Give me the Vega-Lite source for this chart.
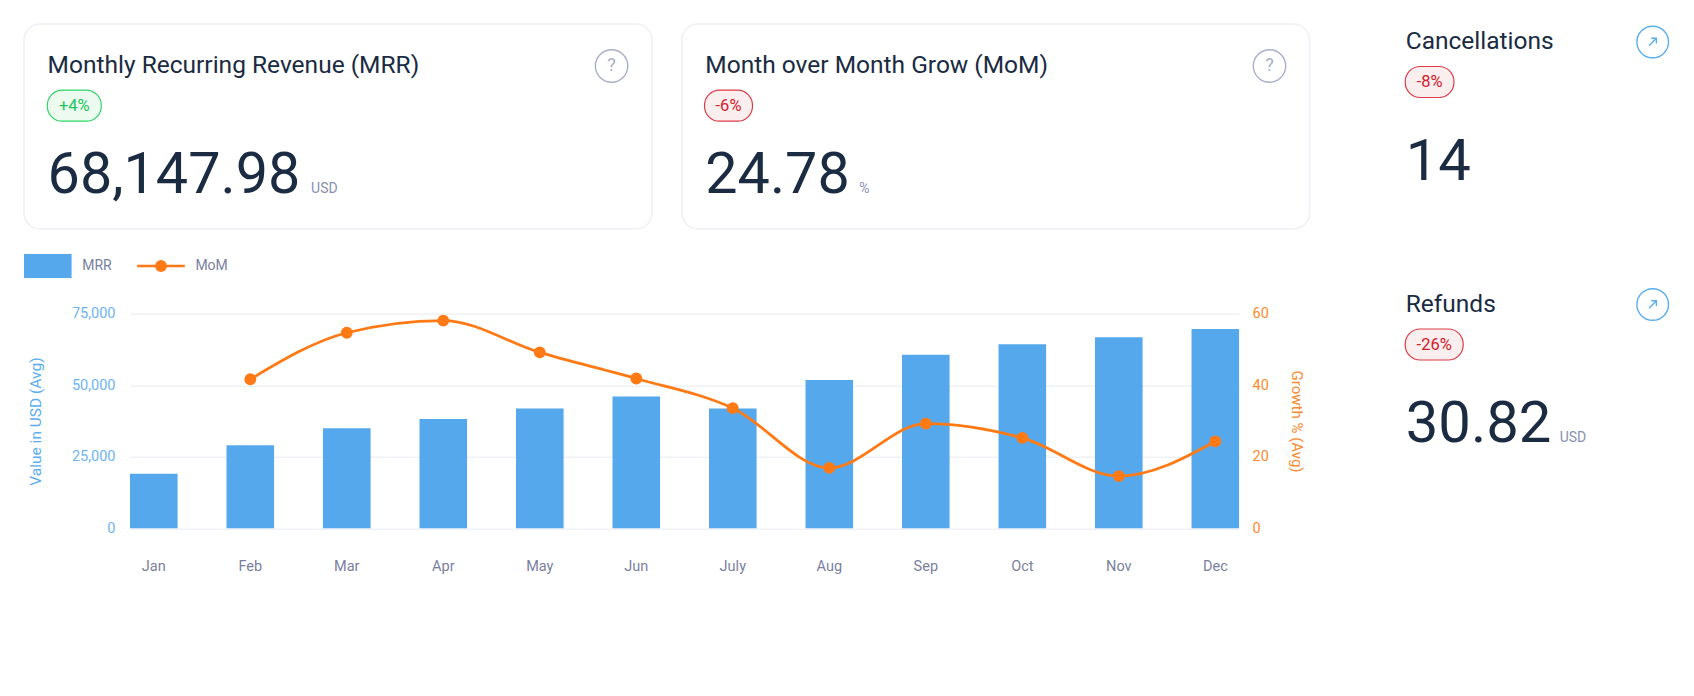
{"$schema":"https://vega.github.io/schema/vega-lite/v6.json","padding":{"left":23,"top":23,"right":0,"bottom":100},"background":"white","spacing":92.7,"config":{"font":"Roboto","view":{"stroke":null},"text":{"font":"Roboto"}},
"hconcat":[
{"spacing":15.4,"vconcat":[
 {"bounds":"flush","spacing":30,"hconcat":[
  {"width":628,"height":205,"view":{"stroke":"#eef0f5","strokeWidth":1.5,"cornerRadius":16},
   "data":{"values":[{"kind":"title","col":"text","part":"title","label":"Monthly Recurring Revenue (MRR)"},{"kind":"badge","col":"text","part":"badge","label":"+4%"},{"kind":"value","col":"text","part":"value","label":"68,147.98"},{"kind":"unit","col":"text","part":"value","label":"USD"},{"kind":"help","col":"help","part":"title","label":"?"}]},
   "encoding":{"x":{"field":"col","type":"nominal","axis":null,"scale":{"type":"point","padding":0,"domain":["text","help"],"range":[23.6,587.6]}},"y":{"field":"part","type":"nominal","axis":null,"scale":{"type":"point","padding":0,"domain":["title","badge","value"],"range":[42,121.4]}}},
   "layer":[
    {"transform":[{"filter":"datum.kind==='title'"}],"mark":{"type":"text","align":"left","baseline":"middle","fontSize":24.5,"color":"#1a2b42"},"encoding":{"text":{"field":"label"}}},
    {"transform":[{"filter":"datum.kind==='badge'"}],"mark":{"type":"rect","width":54,"height":31,"xOffset":26.7,"cornerRadius":15,"fill":"#ecfaf0","stroke":"#2fd566","strokeWidth":1.2}},
    {"transform":[{"filter":"datum.kind==='badge'"}],"mark":{"type":"text","align":"center","baseline":"middle","dx":26.7,"fontSize":16.5,"color":"#22c55e"},"encoding":{"text":{"field":"label"}}},
    {"transform":[{"filter":"datum.kind==='value'"}],"mark":{"type":"text","align":"left","baseline":"alphabetic","dy":47.9,"fontSize":57.5,"color":"#1a2b42"},"encoding":{"text":{"field":"label"}}},
    {"transform":[{"filter":"datum.kind==='unit'"}],"mark":{"type":"text","align":"left","baseline":"alphabetic","dy":47.9,"dx":263.5,"fontSize":14,"color":"#8a90b0"},"encoding":{"text":{"field":"label"}}},
    {"transform":[{"filter":"datum.kind==='help'"}],"mark":{"type":"point","shape":"circle","size":1048,"filled":false,"stroke":"#a9afc9","strokeWidth":1.4,"opacity":1}},
    {"transform":[{"filter":"datum.kind==='help'"}],"mark":{"type":"text","align":"center","baseline":"middle","fontSize":18,"color":"#a9afc9"},"encoding":{"text":{"field":"label"}}}
   ]},
  {"width":627.5,"height":205,"view":{"stroke":"#eef0f5","strokeWidth":1.5,"cornerRadius":16},
   "data":{"values":[{"kind":"title","col":"text","part":"title","label":"Month over Month Grow (MoM)"},{"kind":"badge","col":"text","part":"badge","label":"-6%"},{"kind":"value","col":"text","part":"value","label":"24.78"},{"kind":"unit","col":"text","part":"value","label":"%"},{"kind":"help","col":"help","part":"title","label":"?"}]},
   "encoding":{"x":{"field":"col","type":"nominal","axis":null,"scale":{"type":"point","padding":0,"domain":["text","help"],"range":[23.3,587.5]}},"y":{"field":"part","type":"nominal","axis":null,"scale":{"type":"point","padding":0,"domain":["title","badge","value"],"range":[42,121.4]}}},
   "layer":[
    {"transform":[{"filter":"datum.kind==='title'"}],"mark":{"type":"text","align":"left","baseline":"middle","fontSize":24.5,"color":"#1a2b42"},"encoding":{"text":{"field":"label"}}},
    {"transform":[{"filter":"datum.kind==='badge'"}],"mark":{"type":"rect","width":48,"height":31,"xOffset":23.2,"cornerRadius":15,"fill":"#fbeeee","stroke":"#dc3b47","strokeWidth":1.2}},
    {"transform":[{"filter":"datum.kind==='badge'"}],"mark":{"type":"text","align":"center","baseline":"middle","dx":23.2,"fontSize":16.5,"color":"#d0202c"},"encoding":{"text":{"field":"label"}}},
    {"transform":[{"filter":"datum.kind==='value'"}],"mark":{"type":"text","align":"left","baseline":"alphabetic","dy":47.9,"fontSize":57.5,"color":"#1a2b42"},"encoding":{"text":{"field":"label"}}},
    {"transform":[{"filter":"datum.kind==='unit'"}],"mark":{"type":"text","align":"left","baseline":"alphabetic","dy":47.9,"dx":154,"fontSize":14,"color":"#8a90b0"},"encoding":{"text":{"field":"label"}}},
    {"transform":[{"filter":"datum.kind==='help'"}],"mark":{"type":"point","shape":"circle","size":1048,"filled":false,"stroke":"#a9afc9","strokeWidth":1.4,"opacity":1}},
    {"transform":[{"filter":"datum.kind==='help'"}],"mark":{"type":"text","align":"center","baseline":"middle","fontSize":18,"color":"#a9afc9"},"encoding":{"text":{"field":"label"}}}
   ]}
 ]},
 {"width":1285.5,"height":44.6,"data":{"values":[{"series":"MRR","row":"legend"},{"series":"MoM","row":"legend"}]},
  "encoding":{"x":{"field":"series","type":"nominal","axis":null,"scale":{"type":"point","padding":0,"domain":["MRR","MoM"],"range":[23.8,137]}},"y":{"field":"row","type":"nominal","axis":null,"scale":{"type":"point","domain":["legend"],"range":[0,41.2]}}},
  "layer":[
   {"transform":[{"filter":"datum.series==='MRR'"}],"mark":{"type":"rect","width":47.6,"height":24,"fill":"#55a8ec"}},
   {"transform":[{"filter":"datum.series==='MoM'"}],"mark":{"type":"rect","width":47.6,"height":2.6,"fill":"#ff7a14"}},
   {"transform":[{"filter":"datum.series==='MoM'"}],"mark":{"type":"point","shape":"circle","size":140,"filled":true,"fill":"#ff7a14","opacity":1}},
   {"mark":{"type":"text","align":"left","baseline":"middle","dx":34.4,"fontSize":14,"color":"#7a7f9e"},"encoding":{"text":{"field":"series"}}}
  ]},
 {"bounds":"flush","spacing":0,"hconcat":[
  {"width":105.6,"height":1,"data":{"values":[{"label":""}]},"mark":{"type":"text"},"encoding":{"text":{"field":"label"}}},
  {"width":1109.1,"height":214.5,
   "data":{"values":[
    {"month":"Jan","mrr":19100,"mom":null},{"month":"Feb","mrr":29050,"mom":41.7},{"month":"Mar","mrr":34950,"mom":54.7},{"month":"Apr","mrr":38200,"mom":58.1},{"month":"May","mrr":41900,"mom":49.2},{"month":"Jun","mrr":46050,"mom":41.9},{"month":"July","mrr":41900,"mom":33.6},{"month":"Aug","mrr":51850,"mom":16.9},{"month":"Sep","mrr":60650,"mom":29.3},{"month":"Oct","mrr":64350,"mom":25.3},{"month":"Nov","mrr":66800,"mom":14.6},{"month":"Dec","mrr":69700,"mom":24.3}]},
   "encoding":{"x":{"field":"month","type":"nominal","sort":null,"title":null,"scale":{"type":"band","paddingInner":0.507,"paddingOuter":0},"axis":{"domain":false,"ticks":false,"grid":false,"labelAngle":0,"labelPadding":31,"labelFontSize":14.5,"labelColor":"#7a7f9e","labelFont":"Roboto"}}},
   "layer":[
    {"mark":{"type":"bar","fill":"#55a8ec"},"encoding":{"y":{"field":"mrr","type":"quantitative","title":"Value in USD (Avg)","scale":{"domain":[0,75000]},"axis":{"values":[0,25000,50000,75000],"format":",d","orient":"left","domain":false,"ticks":false,"grid":true,"gridColor":"#f0f1f6","gridWidth":1.5,"labelPadding":15,"labelFontSize":14.5,"labelColor":"#6db5f2","labelFont":"Roboto","titleColor":"#5aaeef","titleFont":"Roboto","titleFontSize":15.5,"titleFontWeight":"normal","titlePadding":28}}}},
    {"layer":[
      {"mark":{"type":"line","interpolate":"monotone","stroke":"#ff7a14","strokeWidth":2.8}},
      {"mark":{"type":"point","shape":"circle","size":140,"filled":true,"fill":"#ff7a14","opacity":1}}],
     "encoding":{"y":{"field":"mom","type":"quantitative","title":"Growth % (Avg)","scale":{"domain":[0,60]},"axis":{"values":[0,20,40,60],"orient":"right","domain":false,"ticks":false,"grid":false,"labelPadding":13,"labelFontSize":14.5,"labelColor":"#fb8a2e","labelFont":"Roboto","titleColor":"#fb8a2e","titleFont":"Roboto","titleFontSize":15,"titleFontWeight":"normal","titlePadding":20}}}}
   ],
   "resolve":{"scale":{"y":"independent"}}}
 ]}
]},
{"bounds":"flush","spacing":22.5,"vconcat":[
 {"width":265,"height":240,
  "data":{"values":[{"kind":"title","col":"text","part":"title","label":"Cancellations"},{"kind":"badge","col":"text","part":"badge","label":"-8%"},{"kind":"value","col":"text","part":"value","label":"14"},{"kind":"link","col":"link","part":"title","label":"link"}]},
  "encoding":{"x":{"field":"col","type":"nominal","axis":null,"scale":{"type":"point","padding":0,"domain":["text","link"],"range":[1,248]}},"y":{"field":"part","type":"nominal","axis":null,"scale":{"type":"point","padding":0,"domain":["title","badge","value"],"range":[18,98]}}},
  "layer":[
   {"transform":[{"filter":"datum.kind==='title'"}],"mark":{"type":"text","align":"left","baseline":"middle","fontSize":24.5,"color":"#1a2b42"},"encoding":{"text":{"field":"label"}}},
   {"transform":[{"filter":"datum.kind==='badge'"}],"mark":{"type":"rect","width":48.7,"height":31,"xOffset":23.9,"cornerRadius":15,"fill":"#fbeeee","stroke":"#dc3b47","strokeWidth":1.2}},
   {"transform":[{"filter":"datum.kind==='badge'"}],"mark":{"type":"text","align":"center","baseline":"middle","dx":23.9,"fontSize":16.5,"color":"#d0202c"},"encoding":{"text":{"field":"label"}}},
   {"transform":[{"filter":"datum.kind==='value'"}],"mark":{"type":"text","align":"left","baseline":"alphabetic","dy":57.5,"fontSize":58,"color":"#1a2b42"},"encoding":{"text":{"field":"label"}}},
   {"transform":[{"filter":"datum.kind==='link'"}],"mark":{"type":"point","shape":"circle","size":1000,"filled":false,"stroke":"#5aaeef","strokeWidth":1.4,"opacity":1}},
   {"transform":[{"filter":"datum.kind==='link'"}],"mark":{"type":"point","shape":"M-0.5,0.5L0.5,-0.5M-0.2,-0.5H0.5V0.2","size":220,"filled":false,"stroke":"#5aaeef","strokeWidth":1.4,"opacity":1}}
  ]},
 {"width":265,"height":240,
  "data":{"values":[{"kind":"title","col":"text","part":"title","label":"Refunds"},{"kind":"badge","col":"text","part":"badge","label":"-26%"},{"kind":"value","col":"text","part":"value","label":"30.82"},{"kind":"unit","col":"text","part":"value","label":"USD"},{"kind":"link","col":"link","part":"title","label":"link"}]},
  "encoding":{"x":{"field":"col","type":"nominal","axis":null,"scale":{"type":"point","padding":0,"domain":["text","link"],"range":[1,248]}},"y":{"field":"part","type":"nominal","axis":null,"scale":{"type":"point","padding":0,"domain":["title","badge","value"],"range":[18,98]}}},
  "layer":[
   {"transform":[{"filter":"datum.kind==='title'"}],"mark":{"type":"text","align":"left","baseline":"middle","fontSize":24.5,"color":"#1a2b42"},"encoding":{"text":{"field":"label"}}},
   {"transform":[{"filter":"datum.kind==='badge'"}],"mark":{"type":"rect","width":58,"height":31,"xOffset":28.5,"cornerRadius":15,"fill":"#fbeeee","stroke":"#dc3b47","strokeWidth":1.2}},
   {"transform":[{"filter":"datum.kind==='badge'"}],"mark":{"type":"text","align":"center","baseline":"middle","dx":28.5,"fontSize":16.5,"color":"#d0202c"},"encoding":{"text":{"field":"label"}}},
   {"transform":[{"filter":"datum.kind==='value'"}],"mark":{"type":"text","align":"left","baseline":"alphabetic","dy":57.5,"fontSize":58,"color":"#1a2b42"},"encoding":{"text":{"field":"label"}}},
   {"transform":[{"filter":"datum.kind==='unit'"}],"mark":{"type":"text","align":"left","baseline":"alphabetic","dy":57.5,"dx":154,"fontSize":14,"color":"#8a90b0"},"encoding":{"text":{"field":"label"}}},
   {"transform":[{"filter":"datum.kind==='link'"}],"mark":{"type":"point","shape":"circle","size":1000,"filled":false,"stroke":"#5aaeef","strokeWidth":1.4,"opacity":1}},
   {"transform":[{"filter":"datum.kind==='link'"}],"mark":{"type":"point","shape":"M-0.5,0.5L0.5,-0.5M-0.2,-0.5H0.5V0.2","size":220,"filled":false,"stroke":"#5aaeef","strokeWidth":1.4,"opacity":1}}
  ]}
]}
]}
